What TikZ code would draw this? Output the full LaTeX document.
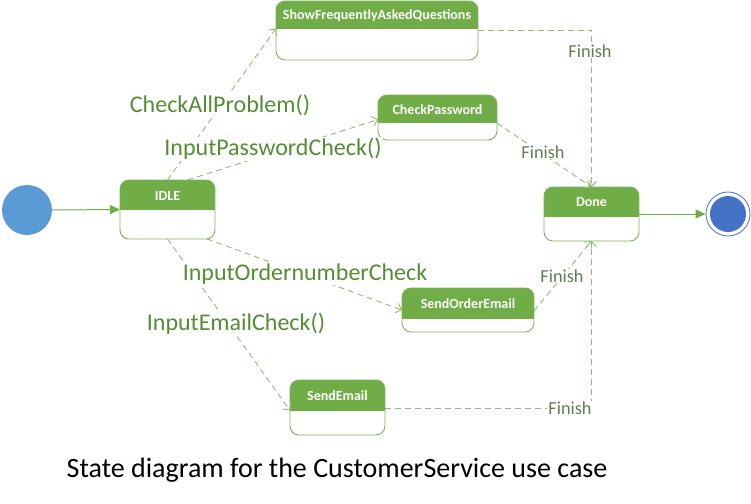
\documentclass[tikz,border=0pt]{standalone}
\usepackage{fontspec}
\setmainfont{Carlito}
\usetikzlibrary{arrows.meta,calc,fit}
\definecolor{hdrgreen}{HTML}{70AD47}
\definecolor{boxgreen}{HTML}{7FB25A}
\definecolor{dashgreen}{HTML}{93BA78}
\definecolor{lblgreen}{HTML}{548E33}
\definecolor{fingreen}{HTML}{5E7F52}
\definecolor{initblue}{HTML}{5B9BD5}
\definecolor{finblue}{HTML}{4472C4}
\tikzset{
  sbox/.style={inner sep=0pt, outer sep=0pt},
  boxline/.style={draw=boxgreen, line width=0.9pt, rounded corners=9pt},
  hdrtext/.style={text=white, font=\fontsize{14}{15}\selectfont\bfseries, inner sep=0pt},
  trans/.style={draw=dashgreen, line width=0.9pt, dash pattern=on 6pt off 4pt,
    -{Straight Barb[length=5pt,width=10pt]}},
  solidarrow/.style={draw=hdrgreen, line width=1pt, -{Triangle[length=10pt,width=9pt]}},
  lbl/.style={text=lblgreen, font=\fontsize{24}{26}\selectfont, fill=white, inner sep=1pt},
  finlbl/.style={text=fingreen, font=\fontsize{18.3}{19}\selectfont, fill=white, inner sep=1pt},
}
\newcommand\statebox[7]{%
  \node[sbox, fit={(#2,#3) (#4,#5)}] (#1) {};
  \begin{scope}
    \clip[rounded corners=9pt] (#2,#3) rectangle (#4,#5);
    \fill[white] (#2,#3) rectangle (#4,#5);
    \fill[hdrgreen] (#2,#3) rectangle (#4,#6);
  \end{scope}
  \draw[boxline] (#2,#3) rectangle (#4,#5);
  \node[hdrtext] (#1-t) at ({(#2+#4)/2},{(#3+#6)/2+0.5}) {#7};
}
\begin{document}
\begin{tikzpicture}[x=1pt,y=-1pt]
\useasboundingbox (0,0) rectangle (751,503);
% states
\statebox{idle}{120}{180}{215}{239}{210}{IDLE}
\statebox{faq}{276}{1}{478}{60}{29}{ShowFrequentlyAskedQuestions}
\statebox{chk}{378}{95}{497}{140}{123}{CheckPassword}
\statebox{done}{544}{187}{639}{241}{217}{Done}
\statebox{soe}{402}{288}{534}{332}{319}{SendOrderEmail}
\statebox{se}{290}{380}{385}{435}{411}{SendEmail}
% initial and final
\node[circle, fill=initblue, minimum size=50pt, inner sep=0pt] (init) at (27,210) {};
\node[circle, draw=finblue, line width=0.8pt, fill=white, minimum size=44pt, inner sep=0pt] (fin) at (728,214) {};
\node[circle, fill=finblue, minimum size=36pt, inner sep=0pt] (fin-in) at (fin) {};
% solid arrows
\draw[solidarrow] (init.east) -- (idle.west);
\draw[solidarrow] (done.east) -- (fin.west);
% transitions from IDLE
\draw[trans] (idle.north) -- ([yshift=2pt]faq.west);
\draw[trans] ([xshift=20pt]idle.north) -- ([yshift=-2pt]chk.west);
\draw[trans] ([xshift=-8pt]idle.south east) -- ([yshift=0pt]soe.west);
\draw[trans] (idle.south) -- ([yshift=-3pt]se.west);
% transitions to Done
\coordinate (c1) at (done.north |- 0,30);
\draw[trans] (faq.east |- 0,30) -- (c1) -- (done.north);
\draw[trans] ([yshift=-5pt]chk.north east |- 0,118) -- (done.north);
\draw[trans] (soe.east |- 0,311) -- (done.south);
\coordinate (c2) at (done.south |- 0,408);
\draw[trans] (se.east |- 0,408) -- (c2) -- (done.south);
% labels
\node[lbl] (l1) at (220,105) {CheckAllProblem()};
\node[lbl] (l2) at (273,149) {InputPasswordCheck()};
\node[lbl] (l3) at (305,274) {InputOrdernumberCheck};
\node[lbl] (l4) at (236,324) {InputEmailCheck()};
\node[finlbl] (f1) at (590,51) {Finish};
\node[finlbl] (f2) at (543,152) {Finish};
\node[finlbl] (f3) at (562,276) {Finish};
\node[finlbl] (f4) at (570,408) {Finish};
% caption
\node[font=\fontsize{28}{30}\selectfont, text=black] (cap) at (337,470) {State diagram for the CustomerService use case};
\end{tikzpicture}
\end{document}
